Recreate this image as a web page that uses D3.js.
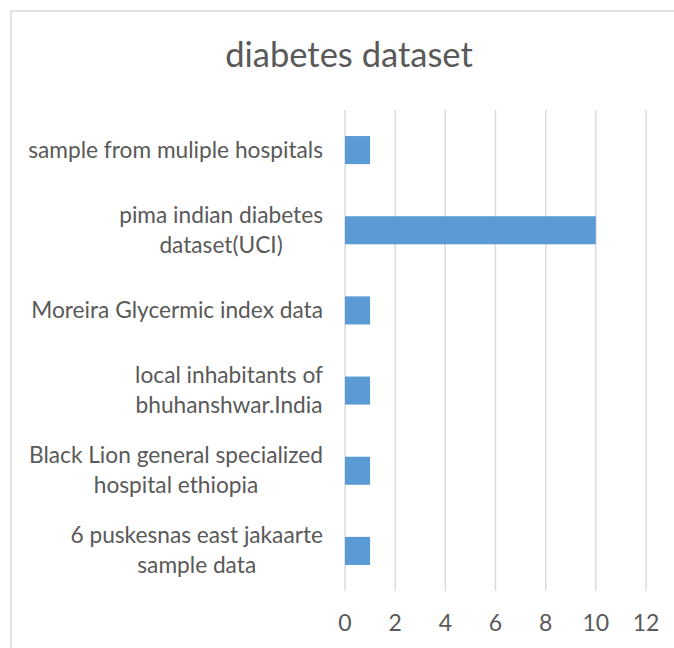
<!DOCTYPE html>
<html>
    <head>
        <meta charset="utf-8">
        <title>diabetes dataset</title>
        <script src="https://cdn.jsdelivr.net/npm/d3@7"></script>
        <style>
            body { margin: 0; background: #fff; }
            text { font-family: Lato, "Open Sans", sans-serif; fill: #595959; }
            .grid line { stroke: #d9d9d9; stroke-width: 1.4; }
        </style>
    </head>
    <body>
        <div id="chart"></div>
        <script>
            var width = 674, height = 648;

            // categories as shown, top to bottom
            const categories = [
                "sample from muliple hospitals",
                "pima indian diabetes dataset(UCI)",
                "Moreira Glycermic index data",
                "local inhabitants of bhuhanshwar.India",
                "Black Lion general specialized hospital ethiopia",
                "6 puskesnas east jakaarte sample data"
            ];
            const counts = [1, 10, 1, 1, 1, 1];
            const xTicks = [0, 2, 4, 6, 8, 10, 12];
            const title = "diabetes dataset";

            var labelSize = "22.7px";

            var svg = d3.select("#chart")
                .append("svg")
                .attr("width", width)
                .attr("height", height);

            // chart area border
            svg.append("rect")
                .attr("x", 11).attr("y", 11)
                .attr("width", width + 10).attr("height", height + 10)
                .attr("fill", "none")
                .attr("stroke", "#d9d9d9")
                .attr("stroke-width", 1.5);

            svg.append("text")
                .attr("x", 349)
                .attr("y", 67)
                .attr("text-anchor", "middle")
                .style("font-size", "34.5px")
                .text(title);

            var x = d3.scaleLinear()
                .domain([0, 12])
                .range([345, 646]);

            var y = d3.scaleBand()
                .domain(categories)
                .range([110, 591])
                .paddingInner(0.65)
                .paddingOuter(0.325);

            // vertical gridlines
            svg.append("g")
                .attr("class", "grid")
                .selectAll("line")
                .data(xTicks)
                .enter()
                .append("line")
                .attr("x1", function (d) { return x(d); })
                .attr("x2", function (d) { return x(d); })
                .attr("y1", 110)
                .attr("y2", 591);

            // bars
            svg.selectAll("rect.bar")
                .data(categories)
                .enter()
                .append("rect")
                .attr("class", "bar")
                .attr("x", x(0))
                .attr("y", function (d) { return y(d); })
                .attr("width", function (d, i) { return x(counts[i]) - x(0); })
                .attr("height", y.bandwidth())
                .attr("fill", "#5b9bd5");

            // x tick labels
            svg.append("g")
                .selectAll("text")
                .data(xTicks)
                .enter()
                .append("text")
                .attr("x", function (d) { return x(d); })
                .attr("y", 631)
                .attr("text-anchor", "middle")
                .style("font-size", "23px")
                .text(function (d) { return d; });

            // category labels, wrapped like Excel does
            var maxW = 310, lineH = 30;
            var labels = svg.append("g");
            categories.forEach(function (c) {
                var t = labels.append("text")
                    .attr("text-anchor", "middle")
                    .style("font-size", labelSize);
                var words = c.split(" "), lines = [], cur = "";
                var probe = labels.append("text").style("font-size", labelSize);
                words.forEach(function (w) {
                    var test = cur ? cur + " " + w : w;
                    probe.text(test);
                    if (cur && probe.node().getComputedTextLength() > maxW) {
                        lines.push(cur);
                        cur = w;
                    } else {
                        cur = test;
                    }
                });
                lines.push(cur);
                probe.remove();

                var widest = 0;
                lines.forEach(function (l) {
                    var ts = t.append("tspan").text(l);
                    widest = Math.max(widest, ts.node().getComputedTextLength());
                });
                var cx = 323 - widest / 2;
                var cy = y(c) + y.bandwidth() / 2;
                var top = cy - (lines.length - 1) * lineH / 2 + 7.5;
                t.selectAll("tspan")
                    .attr("x", cx)
                    .attr("y", function (d, i) { return top + i * lineH; });
            });
        </script>
    </body>
</html>
